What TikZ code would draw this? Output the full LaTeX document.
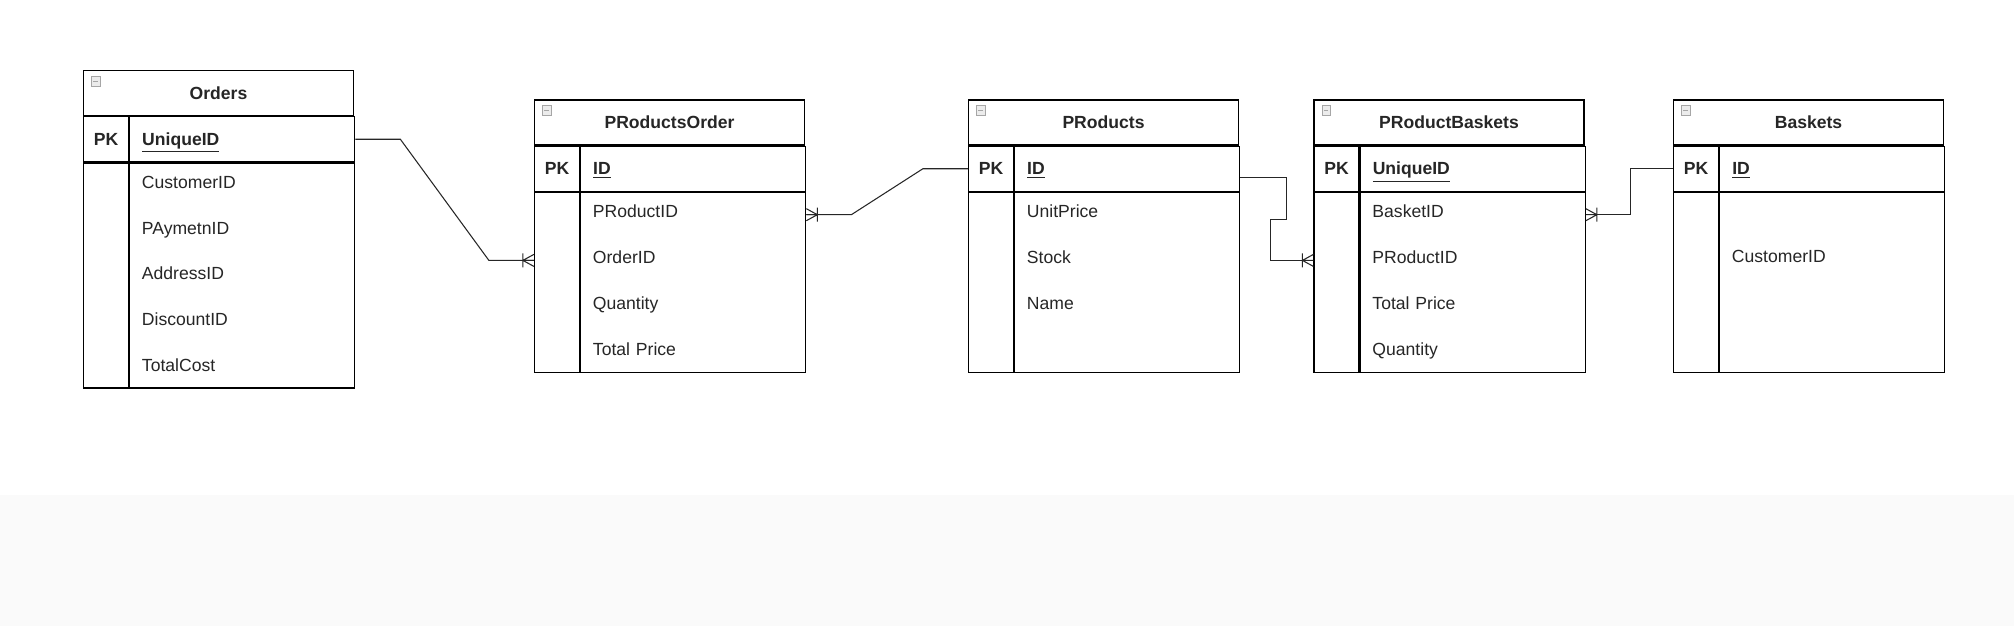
\documentclass[tikz,border=0pt]{standalone}
\usepackage{fontspec}
\setmainfont{Liberation Sans}
\usetikzlibrary{positioning,calc}

\begin{document}
\begin{tikzpicture}[
    font=\fontsize{10}{12}\selectfont,
    every node/.style={text=black!85},
    title/.style={draw, line width=0.7pt, minimum width=5.4cm, minimum height=0.9cm, text height=1.6ex, text depth=0.3ex, font=\fontsize{10}{12}\selectfont\bfseries},
    pkcell/.style={draw, line width=0.7pt, minimum width=0.9cm, minimum height=0.9cm, inner sep=0pt, text height=1.6ex, text depth=0.3ex, anchor=north west, font=\fontsize{10}{12}\selectfont\bfseries},
    keycell/.style={draw, line width=0.7pt, minimum height=0.9cm, text width=4.0cm, inner xsep=0.25cm, inner ysep=0pt, text height=1.6ex, text depth=0.3ex, align=left, anchor=north west, font=\fontsize{10}{12}\selectfont\bfseries},
    pkbody/.style={draw, line width=0.7pt, minimum width=0.9cm, inner sep=0pt, anchor=north west},
    body/.style={draw, line width=0.7pt, minimum width=4.5cm, inner sep=0pt, anchor=north west},
    field/.style={minimum height=0.9cm, text width=4.0cm, inner xsep=0.25cm, inner ysep=0pt, text height=1.6ex, text depth=0.9ex, align=left, anchor=north west},
    link/.style={line width=0.6pt, black!85},
    crow/.pic={\draw[link] (-0.22,0) -- (0,0.12) (-0.22,0) -- (0,0) (-0.22,0) -- (0,-0.12) (-0.22,0.14) -- (-0.22,-0.14);},
    collapse/.pic={\draw[gray!70, fill=gray!15, line width=0.4pt] (0.17,-0.12) rectangle (0.34,-0.32);
                   \draw[gray!70, line width=0.4pt] (0.21,-0.22) -- (0.30,-0.22);}
]

% Background
\fill[white] (0,0) rectangle (40.28,-12.52);
\fill[black!2] (0,-9.9) rectangle (40.28,-12.52);

% Orders
\node[title] (ord) at (4.37,-1.86) {Orders};
\node[pkcell] (ord-pk) at (ord.south west) {PK};
\node[keycell] (ord-key) at (ord-pk.north east) {\underline{UniqueID}};
\node[pkbody, minimum height=4.5cm] (ord-pkb) at (ord-pk.south west) {};
\node[body, minimum height=4.5cm] (ord-body) at (ord-key.south west) {};
\node[field] (ord-f1) at (ord-body.north west) {CustomerID};
\node[field, below=0pt of ord-f1] (ord-f2) {PAymetnID};
\node[field, below=0pt of ord-f2] (ord-f3) {AddressID};
\node[field, below=0pt of ord-f3] (ord-f4) {DiscountID};
\node[field, below=0pt of ord-f4] (ord-f5) {TotalCost};
\pic at (ord.north west) {collapse};

% PRoductsOrder
\node[title] (po) at (13.39,-2.45) {PRoductsOrder};
\node[pkcell] (po-pk) at (po.south west) {PK};
\node[keycell] (po-key) at (po-pk.north east) {\underline{ID}};
\node[pkbody, minimum height=3.6cm] (po-pkb) at (po-pk.south west) {};
\node[body, minimum height=3.6cm] (po-body) at (po-key.south west) {};
\node[field] (po-f1) at (po-body.north west) {PRoductID};
\node[field, below=0pt of po-f1] (po-f2) {OrderID};
\node[field, below=0pt of po-f2] (po-f3) {Quantity};
\node[field, below=0pt of po-f3] (po-f4) {Total Price};
\pic at (po.north west) {collapse};

% PRoducts
\node[title] (pr) at (22.07,-2.45) {PRoducts};
\node[pkcell] (pr-pk) at (pr.south west) {PK};
\node[keycell] (pr-key) at (pr-pk.north east) {\underline{ID}};
\node[pkbody, minimum height=3.6cm] (pr-pkb) at (pr-pk.south west) {};
\node[body, minimum height=3.6cm] (pr-body) at (pr-key.south west) {};
\node[field] (pr-f1) at (pr-body.north west) {UnitPrice};
\node[field, below=0pt of pr-f1] (pr-f2) {Stock};
\node[field, below=0pt of pr-f2] (pr-f3) {Name};
\pic at (pr.north west) {collapse};

% PRoductBaskets
\node[title] (pb) at (28.98,-2.45) {PRoductBaskets};
\node[pkcell] (pb-pk) at (pb.south west) {PK};
\node[keycell] (pb-key) at (pb-pk.north east) {\underline{UniqueID}};
\node[pkbody, minimum height=3.6cm] (pb-pkb) at (pb-pk.south west) {};
\node[body, minimum height=3.6cm] (pb-body) at (pb-key.south west) {};
\node[field] (pb-f1) at (pb-body.north west) {BasketID};
\node[field, below=0pt of pb-f1] (pb-f2) {PRoductID};
\node[field, below=0pt of pb-f2] (pb-f3) {Total Price};
\node[field, below=0pt of pb-f3] (pb-f4) {Quantity};
\pic at (pb.north west) {collapse};

% Baskets
\node[title] (ba) at (36.17,-2.45) {Baskets};
\node[pkcell] (ba-pk) at (ba.south west) {PK};
\node[keycell] (ba-key) at (ba-pk.north east) {\underline{ID}};
\node[pkbody, minimum height=3.6cm] (ba-pkb) at (ba-pk.south west) {};
\node[body, minimum height=3.6cm] (ba-body) at (ba-key.south west) {};
\node[field] (ba-f1) at ($(ba-body.north west)+(0,-0.9)$) {CustomerID};
\pic at (ba.north west) {collapse};

% Relations
\draw[link] (ord-key.east) -- ++(0.9,0) -- ($(po-pkb.west |- po-f2)+(-0.9,0)$) -- (po-pkb.west |- po-f2);
\pic at (po-pkb.west |- po-f2) {crow};

\draw[link] (po-body.east |- po-f1) -- ++(0.9,0) -- ($(pr-pk.west)+(-0.9,0)$) -- (pr-pk.west);
\pic[rotate=180] at (po-body.east |- po-f1) {crow};

\draw[link] ($(pr-key.east)+(0,-0.18)$) -- ++(0.92,0) -- ++(0,-0.84) -- ++(-0.31,0) |- (pb-pkb.west |- pb-f2);
\pic at (pb-pkb.west |- pb-f2) {crow};

\draw[link] (pb-body.east |- pb-f1) -- ++(0.9,0) |- (ba-pk.west);
\pic[rotate=180] at (pb-body.east |- pb-f1) {crow};

\end{tikzpicture}
\end{document}
